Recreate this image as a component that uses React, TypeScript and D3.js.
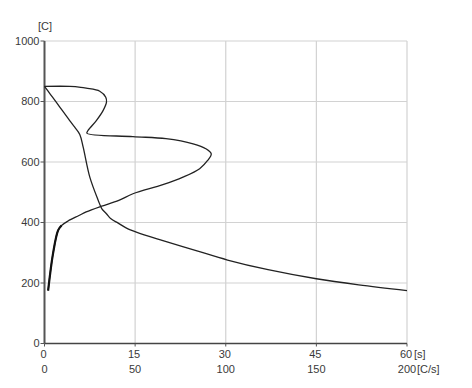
import React from "react";
import * as d3 from "d3";

const W = 472;
const H = 388;

// Cooling curve: time [s] vs temperature [C]
const coolTime = [0, 1, 2, 3, 4, 5, 5.84, 6.4, 7.5, 8.9, 9.5, 10.25, 11, 12.2, 13.5, 15.2, 19.6, 25.1, 30.3, 37, 45, 52, 60];
const coolTemp = [850, 823, 796, 769, 742, 715, 691, 649, 550, 473, 445, 429, 412, 398, 382, 368, 340, 307, 276, 244, 214, 194, 175];

// Cooling rate curve: rate [C/s] vs temperature [C]
const rateTemp = [850, 850, 847, 844, 834, 814, 798, 770, 737, 704, 695, 684, 677, 660, 644, 627, 605, 578, 550, 525, 495, 473, 453, 435, 423, 405, 390, 374, 297, 175];
const rateVal = [0, 14, 20, 23, 30.5, 33.8, 34.2, 32.3, 28.6, 24, 23.4, 48.8, 67, 82, 89, 92, 90, 85.6, 76.4, 65.3, 48.8, 41, 31, 23, 19, 13, 9.4, 7.5, 4.7, 2];

const yTicks = [0, 200, 400, 600, 800, 1000];
const timeTicks = [0, 15, 30, 45, 60];
const rateTicks = [0, 50, 100, 150, 200];

export default function App() {
  const left = 44.5;
  const right = 407;
  const top = 41;
  const bottom = 343.5;

  const y = d3.scaleLinear().domain([0, 1000]).range([bottom, top]);
  const xt = d3.scaleLinear().domain([0, 60]).range([left, right]);
  const xr = d3.scaleLinear().domain([0, 200]).range([left, right]);

  const coolPts: [number, number][] = coolTime.map((t, i) => [xt(t), y(coolTemp[i])]);
  const ratePts: [number, number][] = rateVal.map((r, i) => [xr(r), y(rateTemp[i])]);
  const line = d3.line().curve(d3.curveCatmullRom.alpha(0.5));
  const lowRate = ratePts.filter((_, i) => rateTemp[i] <= 395);

  const font = "Liberation Sans, Arial, sans-serif";
  const txt = "#3a3a3a";

  return (
    <svg width={W} height={H} style={{ position: "absolute", left: 0, top: 0, background: "#fff" }}>
      <rect x={0} y={0} width={W} height={H} fill="#fff" />
      {/* grid */}
      {yTicks.filter((v) => v > 0).map((v) => (
        <line key={"gy" + v} x1={left} x2={right} y1={y(v)} y2={y(v)} stroke="#d2d2d2" strokeWidth={1.2} />
      ))}
      {timeTicks.filter((v) => v > 0).map((v) => (
        <line key={"gx" + v} x1={xt(v)} x2={xt(v)} y1={top} y2={bottom} stroke="#d2d2d2" strokeWidth={1.2} />
      ))}
      {/* axes */}
      <line x1={left} x2={left} y1={top} y2={bottom} stroke="#555" strokeWidth={2} />
      <line x1={left} x2={right} y1={bottom} y2={bottom} stroke="#444" strokeWidth={1.6} />
      {yTicks.map((v) => (
        <g key={"ty" + v}>
          <line x1={left - 4} x2={left} y1={y(v)} y2={y(v)} stroke="#555" strokeWidth={1} />
          <text x={left - 5} y={y(v)} dy="0.35em" textAnchor="end" fontFamily={font} fontSize={11} fill={txt}>
            {v}
          </text>
        </g>
      ))}
      {timeTicks.map((v) => (
        <g key={"tx" + v}>
          <line x1={xt(v)} x2={xt(v)} y1={bottom} y2={bottom + 3} stroke="#555" strokeWidth={1} />
          <text x={xt(v) - 1} y={358} textAnchor="middle" fontFamily={font} fontSize={11} fill={txt}>
            {v}
          </text>
        </g>
      ))}
      {rateTicks.map((v) => (
        <text key={"tr" + v} x={xr(v)} y={373} textAnchor="middle" fontFamily={font} fontSize={11} fill={txt}>
          {v}
        </text>
      ))}
      <text x={right + 7} y={358} fontFamily={font} fontSize={11} fill={txt}>[s]</text>
      <text x={right + 10} y={373} fontFamily={font} fontSize={11} fill={txt}>[C/s]</text>
      <text x={38} y={30} fontFamily={font} fontSize={11} fill={txt}>[C]</text>
      {/* curves */}
      <path d={line(coolPts) || ""} fill="none" stroke="#222" strokeWidth={1.3} />
      <path d={line(ratePts) || ""} fill="none" stroke="#222" strokeWidth={1.3} />
      <path d={line(lowRate) || ""} fill="none" stroke="#111" strokeWidth={2.2} />
    </svg>
  );
}
